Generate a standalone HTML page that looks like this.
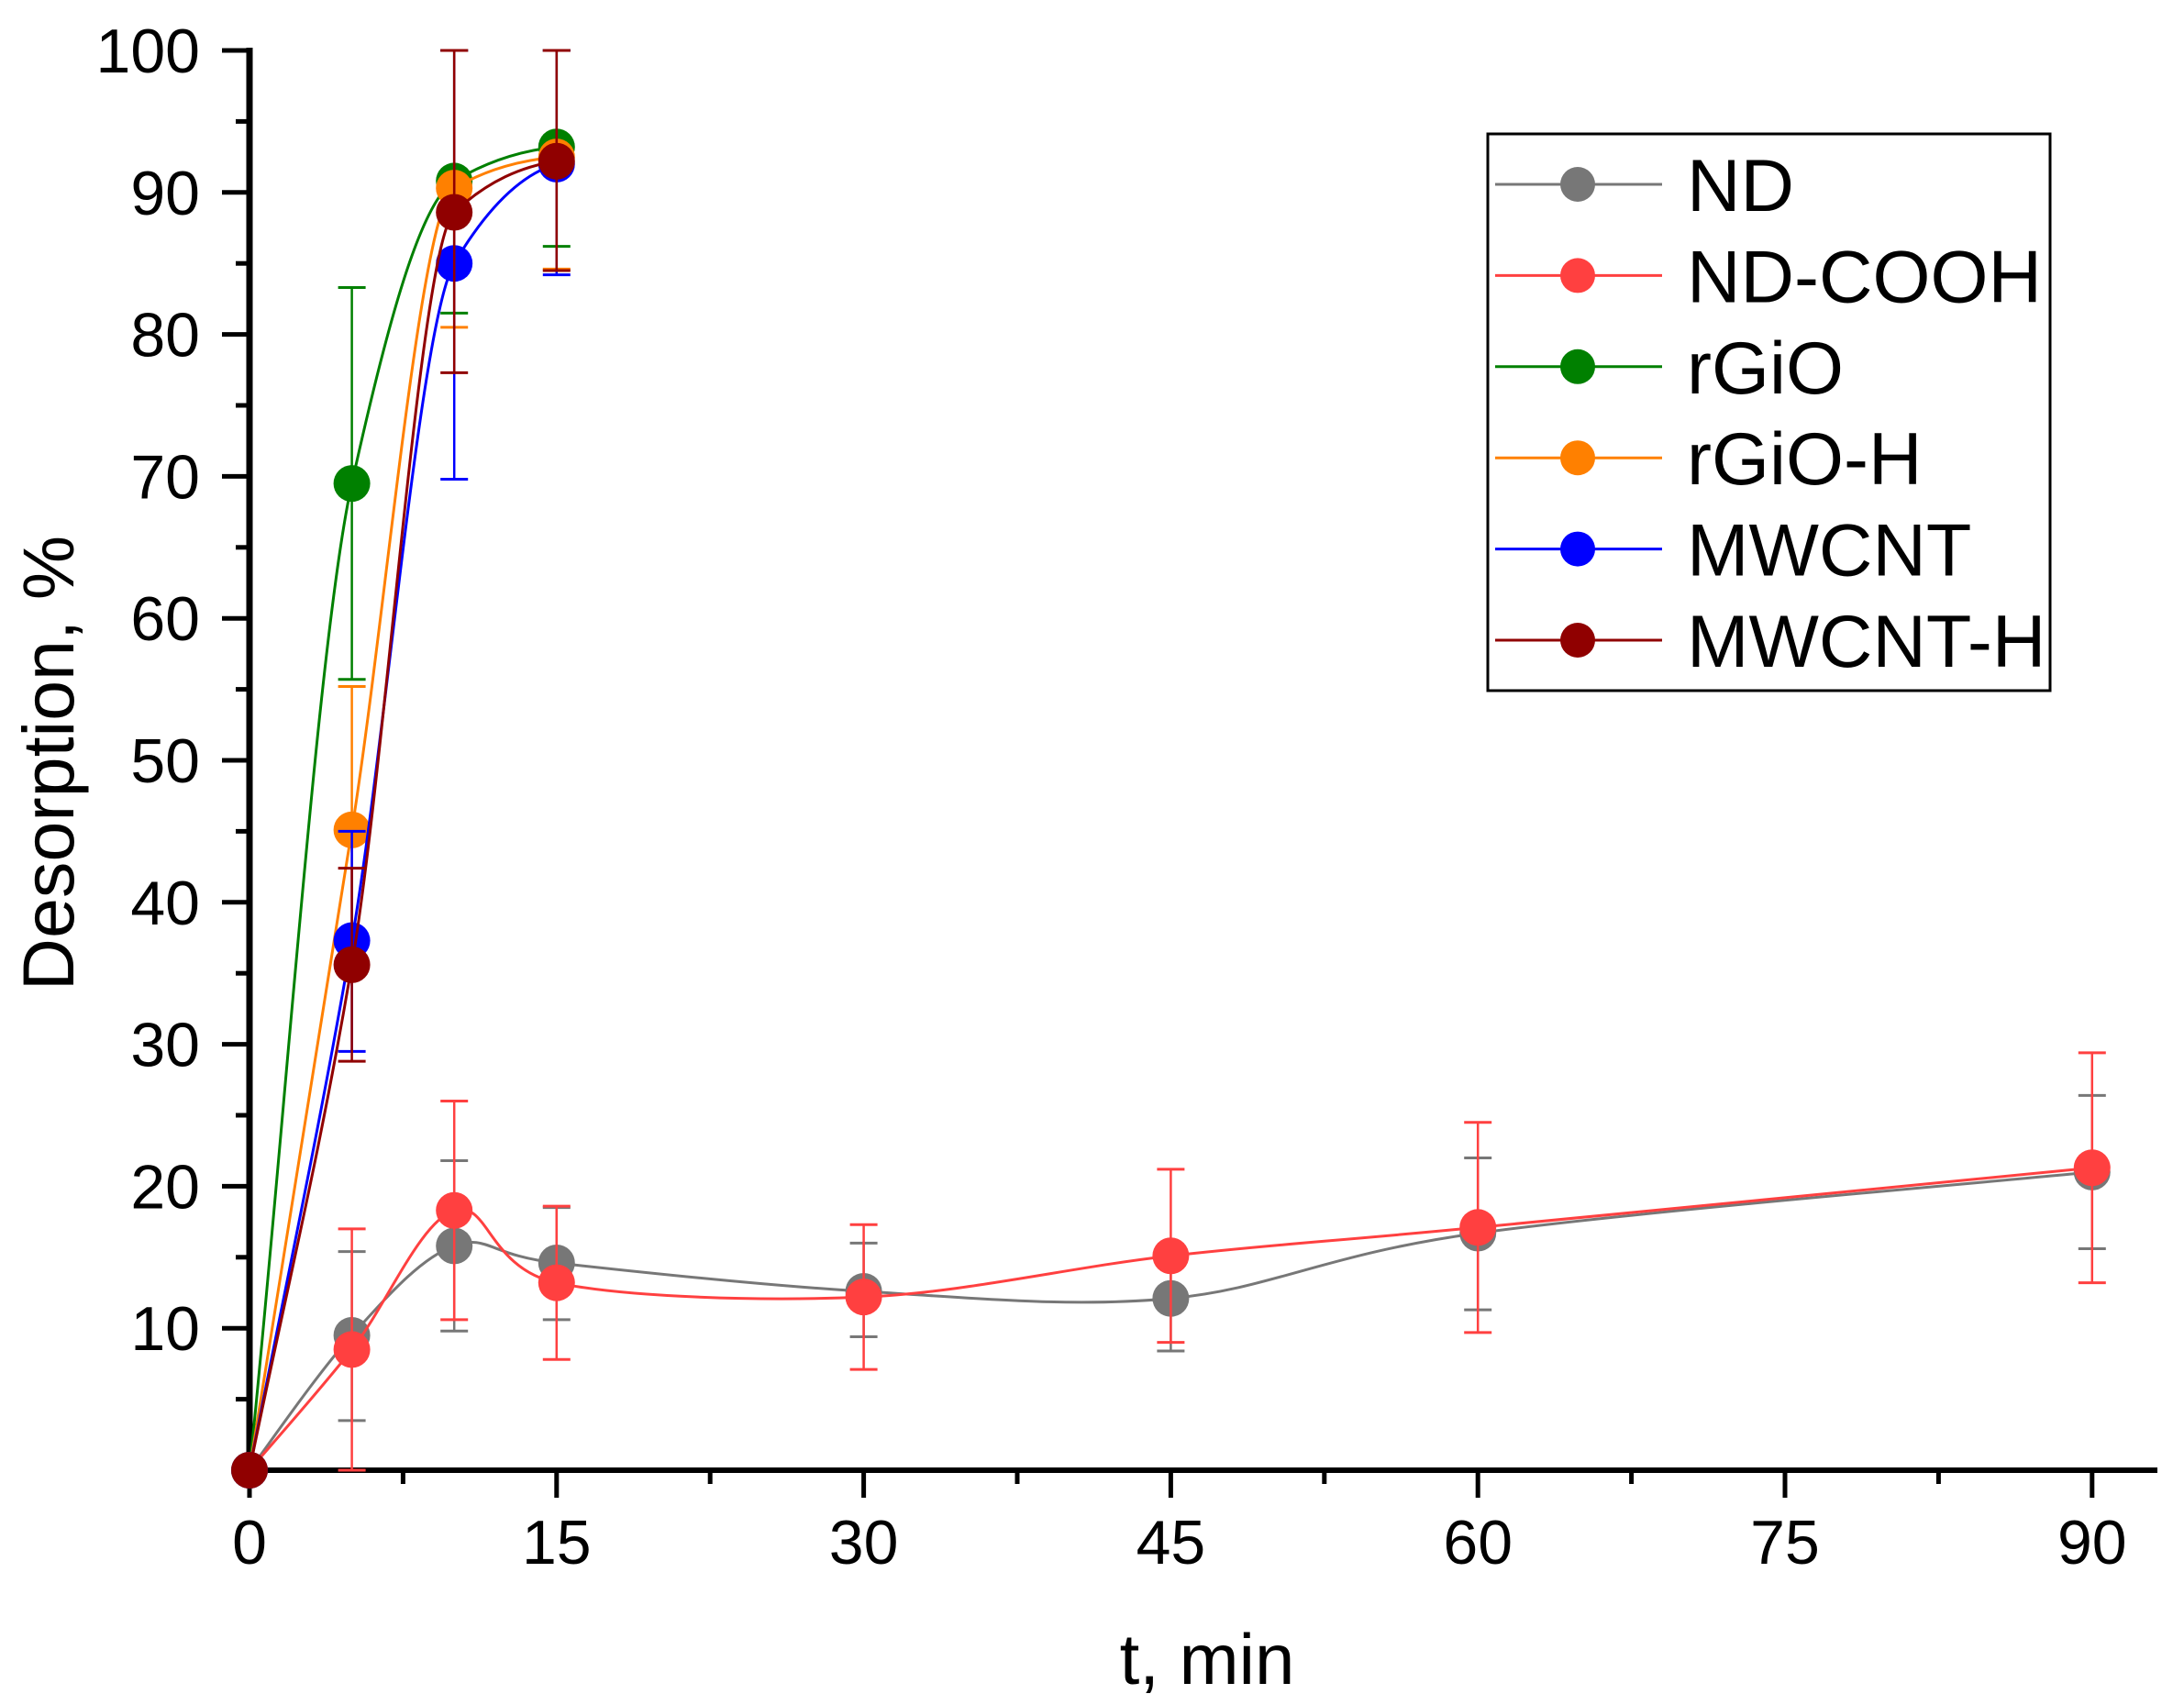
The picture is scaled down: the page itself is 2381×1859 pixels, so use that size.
<!DOCTYPE html>
<html><head><meta charset="utf-8"><style>
html,body{margin:0;padding:0;background:#fff;}
svg{display:block;font-family:"Liberation Sans",Arial,sans-serif;}
</style></head><body>
<svg id="s" width="2381" height="1859" viewBox="0 0 2381 1859" xmlns="http://www.w3.org/2000/svg">
<rect width="2381" height="1859" fill="#fff"/>
<g id="axes"></g>
<g id="data"></g>
<rect x="1622" y="146" width="613" height="607" fill="#fff" stroke="#000" stroke-width="3"/>
<g id="leg"></g>
<text x="1316" y="1836" font-size="78" text-anchor="middle">t, min</text>
<text transform="translate(80,832) rotate(-90)" font-size="79" text-anchor="middle">Desorption, %</text>
</svg>
<script>
var NS="http://www.w3.org/2000/svg";
function X(t){return 272+22.32*t;}
function Y(v){return 1603-15.48*v;}
function el(p,tag,a,txt){var e=document.createElementNS(NS,tag);for(var k in a)e.setAttribute(k,a[k]);if(txt!==undefined)e.textContent=txt;p.appendChild(e);return e;}
var ax=document.getElementById('axes');
el(ax,'line',{x1:272,y1:52,x2:272,y2:1606,stroke:'#000','stroke-width':7});
el(ax,'line',{x1:268,y1:1603,x2:2352,y2:1603,stroke:'#000','stroke-width':6});
for(var v=5;v<=100;v+=5){var y=Y(v);var major=v%10==0;
 el(ax,'line',{x1:major?242:257,y1:y,x2:272,y2:y,stroke:'#000','stroke-width':5});
 if(major)el(ax,'text',{x:218,y:y+24,'font-size':68,'text-anchor':'end'},String(v));}
for(var t=0;t<=90;t+=7.5){var x=X(t);var major=t%15==0;
 el(ax,'line',{x1:x,y1:1603,x2:x,y2:major?1633:1618,stroke:'#000','stroke-width':5});
 if(major)el(ax,'text',{x:x,y:1705,'font-size':68,'text-anchor':'middle'},String(t));}
var S=[
{n:'ND',c:'#777777',m:0,p:[[0,0],[5,9.5],[10,15.8],[15,14.6],[30,12.6],[45,12.1],[60,16.7],[90,21.0]],e:[null,[3.5,15.4],[9.8,21.8],[10.6,18.5],[9.4,16],[8.4,15.5],[11.3,22],[15.6,26.4]]},
{n:'ND-COOH',c:'#FF4040',m:0,p:[[0,0],[5,8.5],[10,18.3],[15,13.2],[30,12.2],[45,15.1],[60,17.1],[90,21.3]],e:[null,[0,17],[10.6,26],[7.8,18.6],[7.1,17.3],[9,21.2],[9.7,24.5],[13.2,29.4]]},
{n:'rGiO',c:'#008000',m:1,p:[[0,0],[5,69.5],[10,90.8],[15,93.2]],e:[null,[55.7,83.3],[81.5,100],[86.2,100]]},
{n:'rGiO-H',c:'#FF8000',m:1,p:[[0,0],[5,45.1],[10,90.3],[15,92.5]],e:[null,[35,55.2],[80.5,100],[84.6,100]]},
{n:'MWCNT',c:'#0000FF',m:1,p:[[0,0],[5,37.3],[10,85],[15,92.0]],e:[null,[29.5,45],[69.8,100],[84.2,100]]},
{n:'MWCNT-H',c:'#900000',m:1,p:[[0,0],[5,35.6],[10,88.6],[15,92.2]],e:[null,[28.8,42.4],[77.3,100],[84.5,100]]}
];
var dg=document.getElementById('data');
function path(pts){var P=pts.map(function(q){return [X(q[0]),Y(q[1])];});
 var d='M'+P[0][0]+','+P[0][1];
 for(var i=0;i<P.length-1;i++){var p0=P[i>0?i-1:i],p1=P[i],p2=P[i+1],p3=P[i+2<P.length?i+2:i+1];
  var k=6;var c1=[p1[0]+(p2[0]-p0[0])/k,p1[1]+(p2[1]-p0[1])/k],c2=[p2[0]-(p3[0]-p1[0])/k,p2[1]-(p3[1]-p1[1])/k];
  d+=' C'+c1+' '+c2+' '+p2;}
 return d;}
function mpath(pts){var P=pts.map(function(q){return [X(q[0]),Y(q[1])];});var n=P.length;
 var dl=[],m=[];for(var i=0;i<n-1;i++)dl.push((P[i+1][1]-P[i][1])/(P[i+1][0]-P[i][0]));
 m[0]=dl[0];m[n-1]=dl[n-2]*0.3;
 for(var i=1;i<n-1;i++){if(dl[i-1]*dl[i]<=0)m[i]=0;else{m[i]=2/(1/dl[i-1]+1/dl[i]);}}
 var d='M'+P[0][0]+','+P[0][1];
 for(var i=0;i<n-1;i++){var h=(P[i+1][0]-P[i][0])/3;
  d+=' C'+(P[i][0]+h)+','+(P[i][1]+m[i]*h)+' '+(P[i+1][0]-h)+','+(P[i+1][1]-m[i+1]*h)+' '+P[i+1][0]+','+P[i+1][1];}
 return d;}
S.forEach(function(s){
 s.e.forEach(function(er,i){if(!er)return;var x=X(s.p[i][0]);
  el(dg,'line',{x1:x,y1:Y(er[0]),x2:x,y2:Y(er[1]),stroke:s.c,'stroke-width':2.5});
  el(dg,'line',{x1:x-15,y1:Y(er[0]),x2:x+15,y2:Y(er[0]),stroke:s.c,'stroke-width':3});
  el(dg,'line',{x1:x-15,y1:Y(er[1]),x2:x+15,y2:Y(er[1]),stroke:s.c,'stroke-width':3});});
 el(dg,'path',{d:s.m?mpath(s.p):path(s.p),fill:'none',stroke:s.c,'stroke-width':3});
 s.p.forEach(function(q){el(dg,'circle',{cx:X(q[0]),cy:Y(q[1]),r:20,fill:s.c});});
});
var lg=document.getElementById('leg');
S.forEach(function(s,i){var y=201+99.4*i;
 el(lg,'line',{x1:1630,y1:y,x2:1812,y2:y,stroke:s.c,'stroke-width':3});
 el(lg,'circle',{cx:1720,cy:y,r:19,fill:s.c});
 el(lg,'text',{x:1839,y:y+29,'font-size':81},s.n);});
</script>
</body></html>
